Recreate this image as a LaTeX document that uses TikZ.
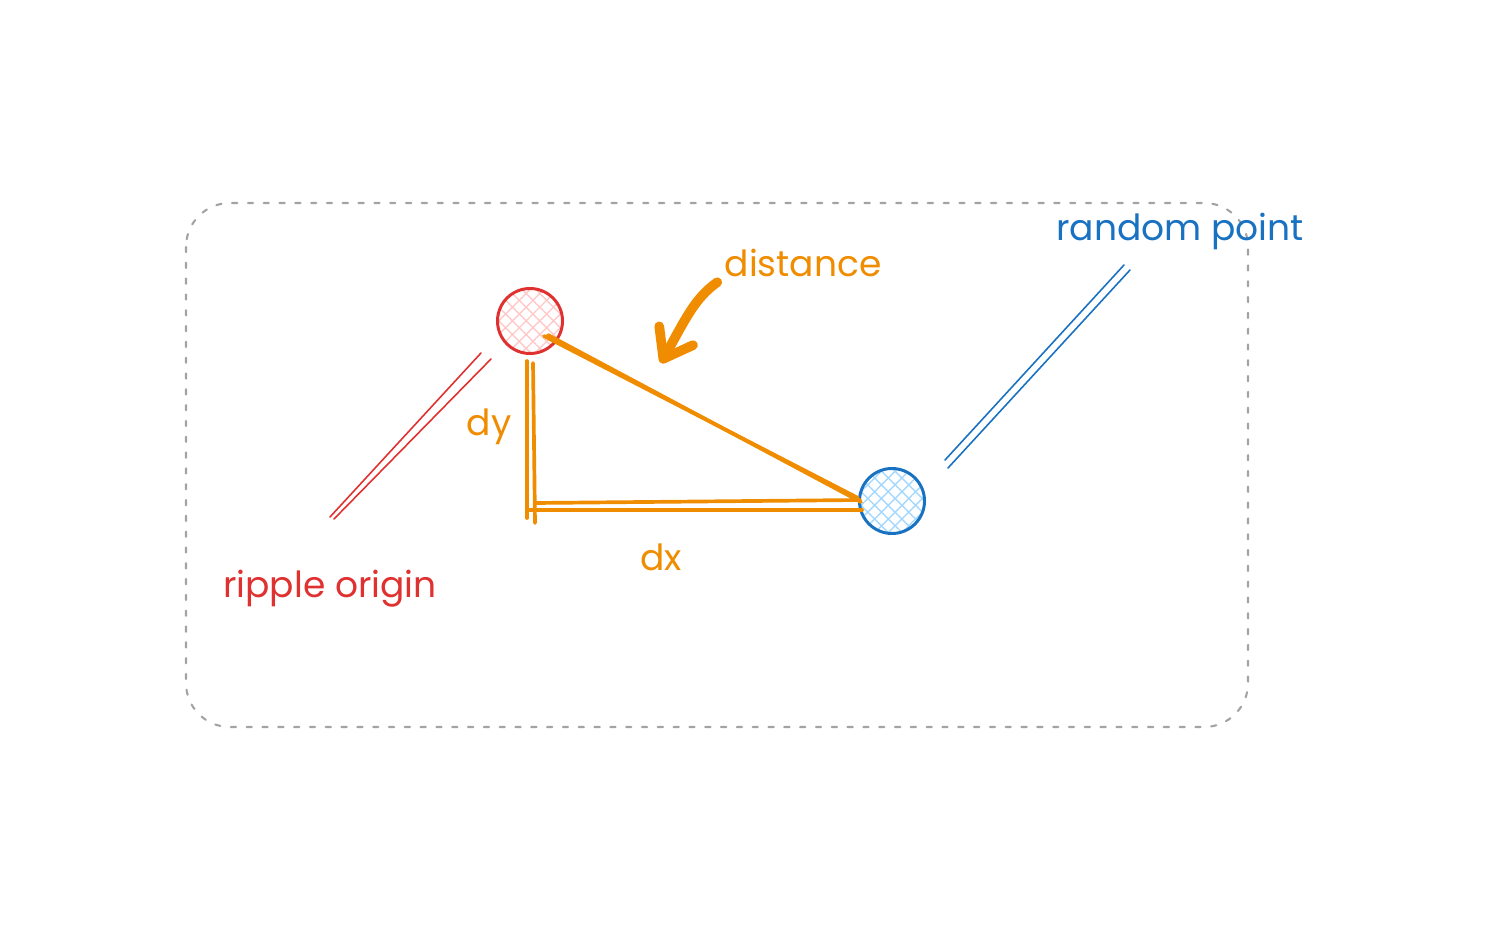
\documentclass[tikz,border=0pt]{standalone}
\usepackage{fontspec}
\setmainfont{Poppins}
\usepackage{xcolor}
\definecolor{sketchOrange}{HTML}{F08C00}
\definecolor{sketchRed}{HTML}{E03131}
\definecolor{sketchBlue}{HTML}{1971C2}
\definecolor{hatchRed}{HTML}{FFC9C9}
\definecolor{hatchBlue}{HTML}{A5D8FF}
\definecolor{frameGray}{HTML}{A3A3A3}
\usetikzlibrary{arrows.meta, patterns.meta, calc}
\tikzset{
    % Dotted frame round the whole sketch
    frame/.style={
        draw=frameGray,
        line width=1.2pt,
        line cap=round,
        dash pattern=on 3pt off 6pt,
        rounded corners=25pt,
    },
    % Hatched point markers
    point/.style={
        circle,
        minimum size=37pt,
        inner sep=0pt,
        line width=1.7pt,
        pattern={Hatch[angle=45, distance=5.5pt, line width=0.8pt]},
    },
    % Hand written labels
    label text/.style={
        font=\fontsize{20.5}{24}\selectfont,
        inner sep=0pt,
    },
    % Triangle sides - doubled orange strokes
    side/.style={
        draw=sketchOrange,
        line width=2.1pt,
        line cap=round,
    },
    % Thin pointer strokes to the labels
    pin/.style={
        line width=0.9pt,
        line cap=round,
    },
    % Thick curved arrow
    curved arrow/.style={
        draw=sketchOrange,
        line width=5.5pt,
        line cap=round,
        -{Straight Barb[length=15pt, width=22pt, round]},
    },
}

\begin{document}
\begin{tikzpicture}[x=0.02cm, y=-0.02cm]
    \useasboundingbox (0,0) rectangle (1490,929);
    \draw[frame] (186,203) rectangle (1248,727);

    \node (origin) [point, draw=sketchRed, pattern color=hatchRed] at (530,321) {};
    \node (target) [point, draw=sketchBlue, pattern color=hatchBlue] at (892,501) {};
    \coordinate (corner) at (531,508);

    \node (distlabel) [label text, text=sketchOrange] at (803,263) {distance};
    \node (dylabel) [label text, text=sketchOrange] at (489,427) {dy};
    \node (dxlabel) [label text, text=sketchOrange] at (661,557) {dx};
    \node (originlabel) [label text, text=sketchRed] at (330,589) {ripple origin};
    \node (targetlabel) [label text, text=sketchBlue] at (1180,231) {random point};

    \coordinate (originpin) at (330,517);
    \coordinate (originend) at (481,353);
    \coordinate (targetpin) at (945,460);
    \coordinate (targetend) at (1124,265);
    \coordinate (distpin) at (661,363);

    % hypotenuse
    \draw[side] ($(origin)+(14,15)$) -- ($(target)+(-34,-3)$);
    \draw[side] ($(origin)+(18,14)$) -- ($(target)+(-31,1)$);
    % dy
    \draw[side] ($(origin)+(-3,40)$) -- ($(corner)+(-4,10)$);
    \draw[side] ($(origin)+(3,42)$) -- ($(corner)+(4,15)$);
    % dx
    \draw[side] ($(corner)+(4,-5)$) -- ($(target)+(-32,-1)$);
    \draw[side] ($(corner)+(-2,2)$) -- ($(target)+(-30,9)$);

    % pointers to the labels
    \draw[pin, sketchRed] (originpin) -- (originend);
    \draw[pin, sketchRed] ($(originpin)+(4,2)$) -- ($(originend)+(10,6)$);
    \draw[pin, sketchBlue] (targetpin) -- (targetend);
    \draw[pin, sketchBlue] ($(targetpin)+(3,8)$) -- ($(targetend)+(6,5)$);

    \draw[curved arrow] ($(distlabel.south west)+(-7,5)$) .. controls (695,298) and (686,318) .. (distpin);
\end{tikzpicture}
\end{document}
